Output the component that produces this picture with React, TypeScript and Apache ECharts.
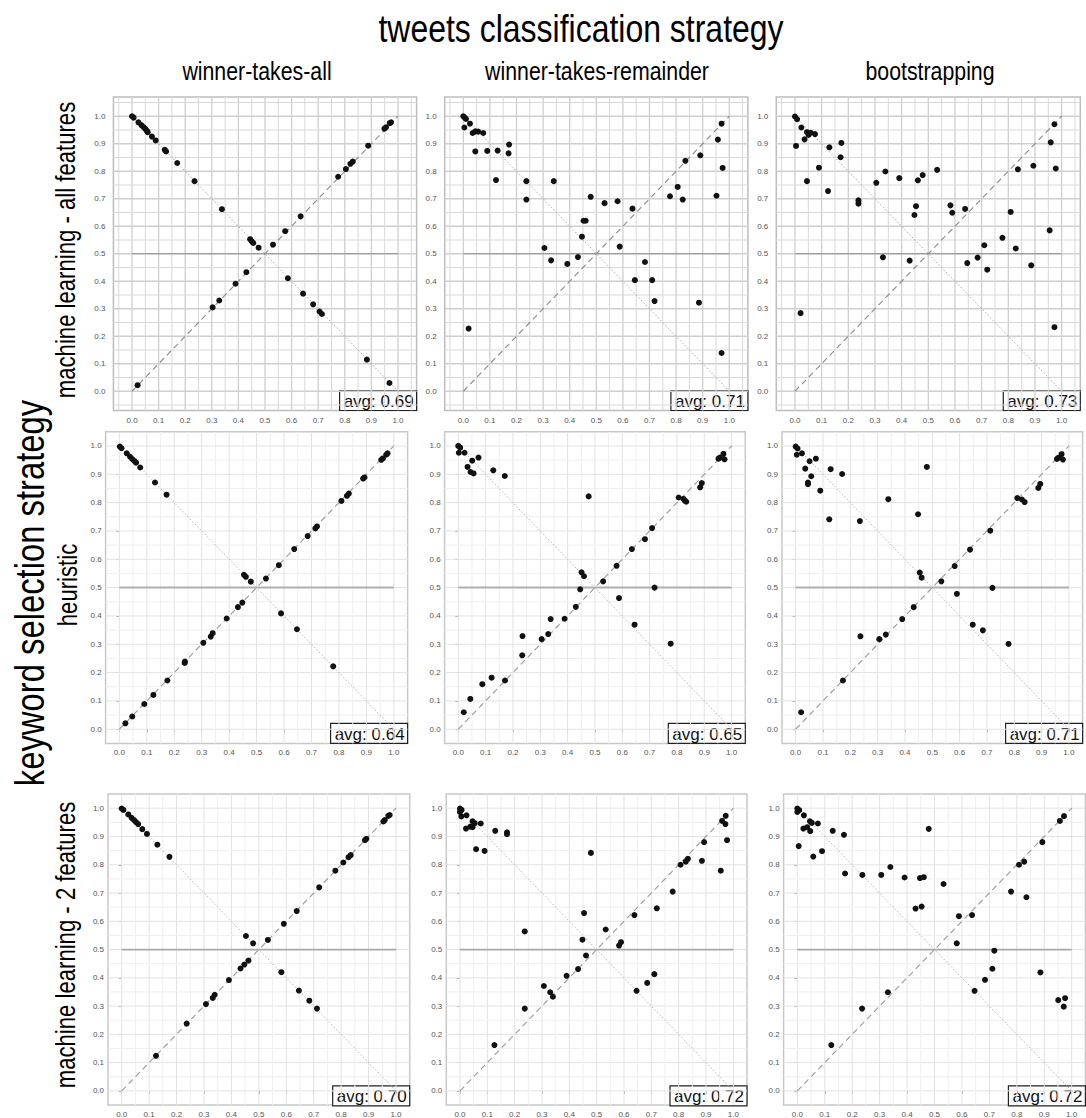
import React, { useEffect, useRef } from "react";
import * as echarts from "echarts";

// ---- text ----
const MAIN_TITLE = "tweets classification strategy";
const SIDE_TITLE = "keyword selection strategy";
const COLUMN_TITLES = ["winner-takes-all", "winner-takes-remainder", "bootstrapping"];
const ROW_TITLES = ["machine learning - all features", "heuristic", "machine learning - 2 features"];
const TICK_VALUES = [0, 0.1, 0.2, 0.3, 0.4, 0.5, 0.6, 0.7, 0.8, 0.9, 1.0];
const AVERAGES = [
  [0.69, 0.71, 0.73],
  [0.64, 0.65, 0.71],
  [0.7, 0.72, 0.72],
];

// ---- per-panel points [x, y] ----
const ML_ALL_WTA = [
  [0, 1.0], [0.006, 0.995], [0.024, 0.978], [0.035, 0.968], [0.043, 0.961], [0.05, 0.954],
  [0.056, 0.947], [0.059, 0.942], [0.075, 0.926], [0.089, 0.912], [0.123, 0.878], [0.128, 0.872],
  [0.17, 0.83], [0.235, 0.764], [0.338, 0.662], [0.444, 0.553], [0.45, 0.545], [0.456, 0.539],
  [0.476, 0.522], [0.53, 0.533], [0.576, 0.582], [0.634, 0.636], [0.775, 0.78], [0.804, 0.808],
  [0.821, 0.827], [0.83, 0.835], [0.888, 0.893], [0.949, 0.955], [0.955, 0.96], [0.969, 0.975],
  [0.974, 0.978], [0.021, 0.022], [0.303, 0.305], [0.328, 0.33], [0.389, 0.391], [0.43, 0.433],
  [0.586, 0.411], [0.643, 0.355], [0.681, 0.316], [0.705, 0.29], [0.714, 0.281], [0.883, 0.115],
  [0.968, 0.03],
];
const ML_ALL_WTR = [
  [0, 1.0], [0.005, 0.995], [0.01, 0.99], [0.004, 0.959], [0.025, 0.973], [0.035, 0.939],
  [0.045, 0.945], [0.056, 0.944], [0.075, 0.939], [0.045, 0.872], [0.09, 0.874], [0.129, 0.875],
  [0.123, 0.768], [0.172, 0.897], [0.17, 0.865], [0.237, 0.764], [0.237, 0.697], [0.34, 0.764],
  [0.305, 0.521], [0.33, 0.476], [0.391, 0.463], [0.431, 0.488], [0.446, 0.562], [0.452, 0.62],
  [0.46, 0.62], [0.479, 0.707], [0.531, 0.684], [0.58, 0.691], [0.588, 0.526], [0.636, 0.664],
  [0.645, 0.404], [0.683, 0.47], [0.71, 0.404], [0.719, 0.328], [0.777, 0.709], [0.806, 0.743],
  [0.825, 0.697], [0.835, 0.838], [0.891, 0.858], [0.886, 0.322], [0.952, 0.711], [0.957, 0.915],
  [0.971, 0.973], [0.975, 0.812], [0.971, 0.139], [0.02, 0.228],
];
const ML_ALL_BOOT = [
  [0, 0.999], [0.008, 0.989], [0.004, 0.892], [0.024, 0.959], [0.036, 0.916], [0.045, 0.942],
  [0.051, 0.932], [0.059, 0.94], [0.075, 0.935], [0.045, 0.764], [0.09, 0.813], [0.129, 0.887],
  [0.124, 0.728], [0.174, 0.903], [0.171, 0.851], [0.238, 0.694], [0.238, 0.682], [0.305, 0.758],
  [0.339, 0.799], [0.33, 0.487], [0.391, 0.775], [0.43, 0.475], [0.448, 0.641], [0.454, 0.673],
  [0.461, 0.767], [0.479, 0.786], [0.533, 0.805], [0.583, 0.676], [0.59, 0.649], [0.638, 0.663],
  [0.646, 0.466], [0.685, 0.486], [0.71, 0.531], [0.721, 0.442], [0.778, 0.558], [0.809, 0.652],
  [0.828, 0.519], [0.836, 0.807], [0.894, 0.82], [0.886, 0.458], [0.955, 0.585], [0.959, 0.905],
  [0.973, 0.971], [0.978, 0.81], [0.973, 0.233], [0.021, 0.284],
];
const HEUR_WTA = [
  [0.002, 0.998], [0.008, 0.992], [0.027, 0.974], [0.039, 0.962], [0.047, 0.954], [0.055, 0.947],
  [0.061, 0.941], [0.076, 0.924], [0.13, 0.871], [0.172, 0.828], [0.454, 0.545], [0.461, 0.538],
  [0.479, 0.521], [0.534, 0.532], [0.581, 0.579], [0.637, 0.636], [0.686, 0.682], [0.714, 0.709],
  [0.72, 0.716], [0.809, 0.806], [0.829, 0.824], [0.836, 0.832], [0.888, 0.885], [0.893, 0.889],
  [0.954, 0.951], [0.96, 0.956], [0.972, 0.969], [0.977, 0.974], [0.022, 0.021], [0.047, 0.045],
  [0.091, 0.089], [0.124, 0.121], [0.175, 0.172], [0.238, 0.234], [0.239, 0.239], [0.306, 0.305],
  [0.333, 0.327], [0.34, 0.339], [0.391, 0.391], [0.432, 0.431], [0.448, 0.447], [0.589, 0.409],
  [0.647, 0.353], [0.779, 0.222],
];
const HEUR_WTR = [
  [0, 1.0], [0.007, 0.994], [0.002, 0.976], [0.023, 0.976], [0.034, 0.926], [0.051, 0.948],
  [0.045, 0.908], [0.056, 0.903], [0.074, 0.959], [0.128, 0.914], [0.17, 0.894], [0.477, 0.822],
  [0.451, 0.554], [0.46, 0.54], [0.446, 0.494], [0.43, 0.432], [0.389, 0.39], [0.338, 0.389],
  [0.329, 0.336], [0.305, 0.318], [0.235, 0.329], [0.234, 0.261], [0.171, 0.172], [0.122, 0.182],
  [0.088, 0.159], [0.044, 0.107], [0.02, 0.06], [0.53, 0.522], [0.579, 0.577], [0.588, 0.463],
  [0.635, 0.636], [0.645, 0.369], [0.683, 0.671], [0.709, 0.71], [0.718, 0.5], [0.777, 0.302],
  [0.806, 0.818], [0.824, 0.813], [0.829, 0.807], [0.834, 0.803], [0.885, 0.854], [0.891, 0.869],
  [0.952, 0.955], [0.957, 0.959], [0.97, 0.972], [0.974, 0.953],
];
const HEUR_BOOT = [
  [0, 0.998], [0.007, 0.991], [0.004, 0.969], [0.023, 0.974], [0.035, 0.92], [0.051, 0.946],
  [0.045, 0.871], [0.045, 0.865], [0.057, 0.893], [0.074, 0.955], [0.09, 0.842], [0.128, 0.918],
  [0.17, 0.901], [0.123, 0.741], [0.235, 0.735], [0.339, 0.812], [0.448, 0.759], [0.48, 0.926],
  [0.454, 0.553], [0.461, 0.535], [0.432, 0.431], [0.39, 0.389], [0.33, 0.334], [0.306, 0.318],
  [0.237, 0.328], [0.173, 0.172], [0.02, 0.06], [0.533, 0.522], [0.582, 0.576], [0.59, 0.478],
  [0.638, 0.634], [0.648, 0.369], [0.685, 0.349], [0.712, 0.701], [0.72, 0.499], [0.779, 0.301],
  [0.811, 0.816], [0.828, 0.811], [0.838, 0.802], [0.888, 0.852], [0.895, 0.866], [0.956, 0.954],
  [0.961, 0.958], [0.973, 0.971], [0.978, 0.952],
];
const ML2_WTA = [
  [0, 0.999], [0.006, 0.994], [0.024, 0.978], [0.036, 0.966], [0.045, 0.958], [0.052, 0.951],
  [0.06, 0.944], [0.075, 0.926], [0.092, 0.909], [0.13, 0.871], [0.174, 0.828], [0.453, 0.548],
  [0.479, 0.522], [0.533, 0.534], [0.591, 0.591], [0.638, 0.636], [0.72, 0.72], [0.779, 0.779],
  [0.808, 0.808], [0.827, 0.827], [0.835, 0.834], [0.887, 0.887], [0.892, 0.892], [0.954, 0.953],
  [0.959, 0.958], [0.972, 0.973], [0.977, 0.976], [0.125, 0.124], [0.237, 0.238], [0.307, 0.307],
  [0.332, 0.329], [0.339, 0.34], [0.391, 0.392], [0.433, 0.433], [0.447, 0.447], [0.462, 0.461],
  [0.582, 0.42], [0.646, 0.355], [0.684, 0.319], [0.712, 0.291],
];
const ML2_WTR = [
  [0, 0.999], [0.006, 0.994], [0, 0.987], [0.005, 0.971], [0.024, 0.975], [0.022, 0.928],
  [0.038, 0.935], [0.046, 0.954], [0.046, 0.933], [0.054, 0.947], [0.076, 0.946], [0.059, 0.855],
  [0.09, 0.849], [0.129, 0.92], [0.172, 0.915], [0.172, 0.908], [0.237, 0.564], [0.237, 0.291],
  [0.126, 0.162], [0.307, 0.371], [0.33, 0.349], [0.34, 0.333], [0.39, 0.407], [0.432, 0.431],
  [0.448, 0.535], [0.454, 0.629], [0.461, 0.479], [0.479, 0.842], [0.533, 0.571], [0.582, 0.514],
  [0.589, 0.526], [0.638, 0.622], [0.646, 0.354], [0.685, 0.382], [0.711, 0.413], [0.72, 0.646],
  [0.778, 0.705], [0.807, 0.8], [0.826, 0.811], [0.834, 0.821], [0.885, 0.814], [0.893, 0.88],
  [0.954, 0.779], [0.959, 0.955], [0.972, 0.973], [0.971, 0.944], [0.977, 0.887],
];
const ML2_BOOT = [
  [0, 0.999], [0.007, 0.993], [0, 0.987], [0.005, 0.866], [0.024, 0.975], [0.022, 0.928],
  [0.036, 0.933], [0.046, 0.954], [0.047, 0.919], [0.053, 0.948], [0.075, 0.946], [0.058, 0.829],
  [0.09, 0.848], [0.129, 0.92], [0.17, 0.906], [0.174, 0.769], [0.237, 0.764], [0.306, 0.764],
  [0.339, 0.792], [0.391, 0.755], [0.447, 0.753], [0.461, 0.756], [0.479, 0.927], [0.533, 0.732],
  [0.431, 0.645], [0.453, 0.652], [0.33, 0.349], [0.236, 0.291], [0.124, 0.162], [0.581, 0.522],
  [0.589, 0.618], [0.637, 0.622], [0.646, 0.354], [0.684, 0.393], [0.711, 0.432], [0.718, 0.496],
  [0.779, 0.705], [0.808, 0.8], [0.827, 0.811], [0.835, 0.685], [0.886, 0.419], [0.893, 0.88],
  [0.957, 0.955], [0.972, 0.972], [0.951, 0.321], [0.976, 0.328], [0.971, 0.298],
];

const PANEL_POINTS = [
  [ML_ALL_WTA, ML_ALL_WTR, ML_ALL_BOOT],
  [HEUR_WTA, HEUR_WTR, HEUR_BOOT],
  [ML2_WTA, ML2_WTR, ML2_BOOT],
];

// ---- layout of the 3x3 panels (pixels) ----
const PANEL_BOXES = [
  [
    { left: 113.4, top: 97, width: 303.2, height: 313.5 },
    { left: 444.7, top: 97, width: 303.2, height: 313.5 },
    { left: 776.3, top: 97, width: 304, height: 313.5 },
  ],
  [
    { left: 105.6, top: 431.8, width: 302, height: 311.6 },
    { left: 444.6, top: 431.8, width: 300.7, height: 311.6 },
    { left: 782, top: 431.8, width: 300.6, height: 311.6 },
  ],
  [
    { left: 108, top: 794.1, width: 301.7, height: 311.7 },
    { left: 446.3, top: 794.1, width: 300.7, height: 311.7 },
    { left: 783.6, top: 794.1, width: 301.8, height: 311.7 },
  ],
];
// axis extent per row: the first row has a wider margin around [0, 1]
const ROW_EXTENT = [
  [-0.07, 1.07],
  [-0.05, 1.05],
  [-0.05, 1.05],
];
// visual weight of the grid per row (the first row is drawn heavier)
const ROW_STYLE = [
  { major: "#cfcfcf", minor: "#d9d9d9", majorW: 1.3, minorW: 1, border: "#bdbdbd", hline: "#8c8c8c", hlineW: 1.2, diag: "#8a8a8a", anti: "#a8a8a8", ticks: false },
  { major: "#e3e3e3", minor: "#efefef", majorW: 1, minorW: 1, border: "#c8c8c8", hline: "#b0b0b0", hlineW: 2, diag: "#999999", anti: "#b5b5b5", ticks: true },
  { major: "#e3e3e3", minor: "#efefef", majorW: 1, minorW: 1, border: "#c8c8c8", hline: "#a8a8a8", hlineW: 1.8, diag: "#999999", anti: "#b5b5b5", ticks: true },
];

const NARROW = 0.82;
const FONT = '"Liberation Sans", Arial, sans-serif';

function gridValues(lo: number, hi: number): number[] {
  const out: number[] = [];
  for (let i = Math.ceil(lo / 0.05 - 1e-9); i * 0.05 <= hi + 1e-9; i++) out.push(+(i * 0.05).toFixed(2));
  return out;
}

export default function App() {
  const ref = useRef<HTMLDivElement>(null);

  useEffect(() => {
    document.body.style.margin = "0";
    if (!ref.current) return;
    const chart = echarts.init(ref.current, undefined, { renderer: "svg" });

    const grids: any[] = [];
    const xAxes: any[] = [];
    const yAxes: any[] = [];
    const series: any[] = [];
    const graphics: any[] = [];

    for (let r = 0; r < 3; r++) {
      const [lo, hi] = ROW_EXTENT[r];
      const st = ROW_STYLE[r];
      const lines = gridValues(lo, hi).filter((v) => v > lo + 0.01 && v < hi - 0.01);
      for (let c = 0; c < 3; c++) {
        const idx = r * 3 + c;
        const box = PANEL_BOXES[r][c];
        grids.push({
          left: box.left,
          top: box.top,
          width: box.width,
          height: box.height,
          show: true,
          backgroundColor: "#ffffff",
          borderColor: st.border,
          borderWidth: 1.5,
          containLabel: false,
        });
        const axisCommon = {
          gridIndex: idx,
          type: "value",
          min: lo,
          max: hi,
          axisLine: { show: false },
          splitLine: { show: false },
          axisTick: {
            show: st.ticks,
            length: 3,
            customValues: TICK_VALUES,
            lineStyle: { color: "#9a9a9a", width: 1 },
          },
          axisLabel: {
            customValues: TICK_VALUES,
            formatter: (v: number) => v.toFixed(1),
            fontSize: 8,
            color: "#555",
            fontFamily: FONT,
          },
        };
        xAxes.push({ ...axisCommon, axisLabel: { ...axisCommon.axisLabel, margin: st.ticks ? 5 : 6 } });
        yAxes.push({ ...axisCommon, axisLabel: { ...axisCommon.axisLabel, margin: st.ticks ? 4 : 8 } });

        // background grid lines every 0.05, darker every 0.1
        series.push({
          type: "custom",
          xAxisIndex: idx,
          yAxisIndex: idx,
          z: 1,
          silent: true,
          data: lines.map((v) => [v, 0.5]),
          renderItem: (_p: any, api: any) => {
            const v = api.value(0);
            const major = Math.abs(v * 10 - Math.round(v * 10)) < 1e-6;
            const a = api.coord([v, lo]);
            const b = api.coord([v, hi]);
            const p = api.coord([lo, v]);
            const q = api.coord([hi, v]);
            const style = { stroke: major ? st.major : st.minor, lineWidth: major ? st.majorW : st.minorW };
            return {
              type: "group",
              children: [
                { type: "line", shape: { x1: a[0], y1: a[1], x2: b[0], y2: b[1] }, style },
                { type: "line", shape: { x1: p[0], y1: p[1], x2: q[0], y2: q[1] }, style },
              ],
            };
          },
        });
        // identity diagonal
        series.push({
          type: "line",
          xAxisIndex: idx,
          yAxisIndex: idx,
          z: 2,
          silent: true,
          symbol: "none",
          data: [[0, 0], [1, 1]],
          lineStyle: { color: st.diag, width: 1.1, type: [6, 4] },
        });
        // anti-diagonal
        series.push({
          type: "line",
          xAxisIndex: idx,
          yAxisIndex: idx,
          z: 2,
          silent: true,
          symbol: "none",
          data: [[0, 1], [1, 0]],
          lineStyle: { color: st.anti, width: 1, type: [1.5, 2] },
        });
        // 0.5 reference
        series.push({
          type: "line",
          xAxisIndex: idx,
          yAxisIndex: idx,
          z: 2,
          silent: true,
          symbol: "none",
          data: [[0, 0.5], [1, 0.5]],
          lineStyle: { color: st.hline, width: st.hlineW },
        });
        // points
        series.push({
          type: "scatter",
          xAxisIndex: idx,
          yAxisIndex: idx,
          z: 5,
          symbol: "circle",
          symbolSize: 6,
          itemStyle: { color: "#111111", opacity: 1 },
          data: PANEL_POINTS[r][c],
        });

        // average badge at the bottom-right corner of the panel
        const bw = 77;
        const bh = 20;
        graphics.push({
          type: "group",
          x: box.left + box.width - bw,
          y: box.top + box.height - bh,
          z: 100,
          children: [
            { type: "rect", shape: { x: 0, y: 0, width: bw, height: bh }, style: { fill: "#ffffff", stroke: "#222222", lineWidth: 1.2 } },
            {
              type: "text",
              x: bw - 3,
              y: bh / 2 + 1,
              style: {
                text: "avg: " + AVERAGES[r][c].toFixed(2),
                font: `17px ${FONT}`,
                fill: "#111",
                textAlign: "right",
                textVerticalAlign: "middle",
              },
            },
          ],
        });
      }
    }

    // titles
    graphics.push({
      type: "text",
      x: 581,
      y: 29,
      scaleX: NARROW,
      style: { text: MAIN_TITLE, font: `39px ${FONT}`, fill: "#000", textAlign: "center", textVerticalAlign: "middle" },
    });
    const colCenters = [257, 597, 930];
    COLUMN_TITLES.forEach((t, i) => {
      graphics.push({
        type: "text",
        x: colCenters[i],
        y: 71,
        scaleX: NARROW,
        style: { text: t, font: `26px ${FONT}`, fill: "#000", textAlign: "center", textVerticalAlign: "middle" },
      });
    });
    graphics.push({
      type: "text",
      x: 30,
      y: 593,
      rotation: Math.PI / 2,
      scaleX: NARROW,
      style: { text: SIDE_TITLE, font: `40px ${FONT}`, fill: "#000", textAlign: "center", textVerticalAlign: "middle" },
    });
    const rowCenters = [
      { x: 66, y: 250 },
      { x: 68, y: 585 },
      { x: 66, y: 945 },
    ];
    ROW_TITLES.forEach((t, i) => {
      graphics.push({
        type: "text",
        x: rowCenters[i].x,
        y: rowCenters[i].y,
        rotation: Math.PI / 2,
        scaleX: NARROW,
        style: { text: t, font: `27px ${FONT}`, fill: "#000", textAlign: "center", textVerticalAlign: "middle" },
      });
    });

    chart.setOption({
      animation: false,
      backgroundColor: "#ffffff",
      grid: grids,
      xAxis: xAxes,
      yAxis: yAxes,
      series,
      graphic: graphics,
    });

    return () => chart.dispose();
  }, []);

  return <div ref={ref} style={{ width: 1086, height: 1118 }} />;
}
